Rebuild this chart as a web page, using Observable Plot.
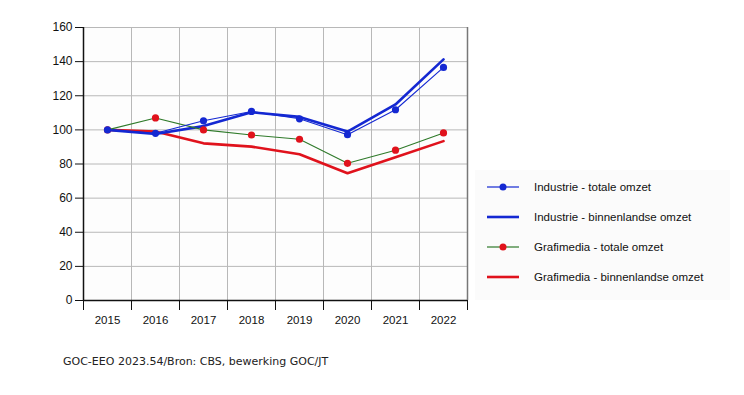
<!DOCTYPE html>
<html><head><meta charset="utf-8">
<script src="https://cdn.jsdelivr.net/npm/d3@7"></script>
<script src="https://cdn.jsdelivr.net/npm/@observablehq/plot@0.6"></script>
<style>
body{margin:0;background:#fff;}
#wrap{position:relative;width:744px;height:395px;overflow:hidden;font-family:"Liberation Sans",Arial,sans-serif;}
#chart{position:absolute;left:0;top:0;}
#legend{position:absolute;left:475px;top:170px;width:255px;height:130px;background:#fbfbfb;}
.item{position:absolute;left:12px;height:20px;display:flex;align-items:center;font-size:11.5px;color:#111;}
.item svg{margin-right:15px;}
#caption{position:absolute;left:63px;top:355px;font-family:"DejaVu Sans",Verdana,sans-serif;font-size:11px;color:#222;}
</style></head>
<body><div id="wrap"><div id="chart"></div><div id="legend"></div><div id="caption">GOC-EEO 2023.54/Bron: CBS, bewerking GOC/JT</div></div>
<script>
const years = [2015, 2016, 2017, 2018, 2019, 2020, 2021, 2022];
const industrieTotaal = [100, 98, 105.3, 110.8, 106.5, 97.2, 111.8, 136.6];
const industrieBinnen = [100, 97.6, 102.2, 110.3, 107.6, 99, 114.9, 141.3];
const grafiTotaal = [100, 107, 100, 97, 94.5, 80.4, 88.1, 98.2];
const grafiBinnen = [100, 99, 92.1, 90.2, 85.7, 74.6, 84, 93.4];
const yTicks = [0, 20, 40, 60, 80, 100, 120, 140, 160];
const seriesNames = ["Industrie - totale omzet", "Industrie - binnenlandse omzet", "Grafimedia - totale omzet", "Grafimedia - binnenlandse omzet"];

const blue = "#1428d2", red = "#e0121c", green = "#2f7a2a";
const mk = vals => years.map((y, i) => ({year: y, value: vals[i]}));
const iT = mk(industrieTotaal), iB = mk(industrieBinnen), gT = mk(grafiTotaal), gB = mk(grafiBinnen);
const bounds = years.map(y => y - 0.5).concat([years[years.length - 1] + 0.5]);

const plot = Plot.plot({
  width: 480, height: 330,
  marginLeft: 83, marginRight: 13, marginTop: 27, marginBottom: 30,
  style: {fontFamily: "Liberation Sans, Arial, sans-serif", fontSize: "12px", color: "#111", background: "transparent"},
  x: {domain: [2014.5, 2022.5], label: null},
  y: {domain: [0, 160], label: null},
  marks: [
    Plot.frame({fill: "#fdfdfd", stroke: null}),
    Plot.gridY(yTicks, {stroke: "#b8b8b8", strokeOpacity: 1}),
    Plot.gridX(bounds, {stroke: "#b8b8b8", strokeOpacity: 1}),
    Plot.ruleX([2022.5], {stroke: "#777", strokeWidth: 1.5}),
    Plot.axisY(yTicks, {tickSize: 8, tickPadding: 3, fontSize: 12}),
    Plot.axisX(bounds, {tickSize: 10, tickFormat: () => ""}),
    Plot.axisX(years, {tickSize: 0, tickPadding: 15, tickFormat: d => String(d), fontSize: 11.5}),
    Plot.ruleX([2014.5], {stroke: "#111", strokeWidth: 1.5}),
    Plot.ruleY([0], {stroke: "#111", strokeWidth: 1.5}),
    Plot.lineY(gB, {x: "year", y: "value", stroke: red, strokeWidth: 2.6}),
    Plot.lineY(iB, {x: "year", y: "value", stroke: blue, strokeWidth: 2.6}),
    Plot.lineY(gT, {x: "year", y: "value", stroke: green, strokeWidth: 1.1}),
    Plot.lineY(iT, {x: "year", y: "value", stroke: blue, strokeWidth: 1.1}),
    Plot.dot(gT, {x: "year", y: "value", fill: red, r: 3.6}),
    Plot.dot(iT, {x: "year", y: "value", fill: blue, r: 3.6})
  ]
});
document.getElementById("chart").appendChild(plot);

const legendSpec = [
  {stroke: blue, w: 1.2, dot: blue},
  {stroke: blue, w: 2.6, dot: null},
  {stroke: green, w: 1.2, dot: red},
  {stroke: red, w: 2.6, dot: null}
];
const legend = document.getElementById("legend");
seriesNames.forEach((name, i) => {
  const s = legendSpec[i];
  const div = document.createElement("div");
  div.className = "item";
  div.style.top = (7 + i * 30) + "px";
  div.innerHTML = `<svg width="32" height="10"><line x1="0" x2="32" y1="5" y2="5" stroke="${s.stroke}" stroke-width="${s.w}"/>` +
    (s.dot ? `<circle cx="16" cy="5" r="3.5" fill="${s.dot}"/>` : "") + `</svg><span>${name}</span>`;
  legend.appendChild(div);
});
</script></body></html>
